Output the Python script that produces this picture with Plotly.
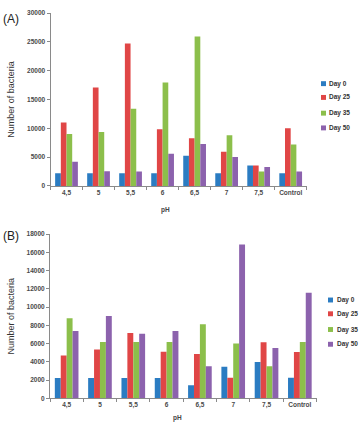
import plotly.graph_objects as go

categories = ["4,5", "5", "5,5", "6", "6,5", "7", "7,5", "Control"]
series_names = ["Day 0", "Day 25", "Day 35", "Day 50"]

# Panel A values
a_day0 = [2200, 2200, 2200, 2200, 5250, 2200, 3530, 2200]
a_day25 = [11000, 17100, 24740, 9860, 8270, 5930, 3530, 10030]
a_day35 = [9000, 9350, 13400, 17960, 25940, 8780, 2510, 7180]
a_day50 = [4220, 2570, 2500, 5590, 7300, 5020, 3300, 2500]

# Panel B values
b_day0 = [2230, 2230, 2230, 2230, 1440, 3450, 3990, 2260]
b_day25 = [4710, 5350, 7150, 5100, 4850, 2260, 6140, 5070]
b_day35 = [8770, 6180, 6180, 6180, 8120, 6000, 3520, 6180]
b_day50 = [7370, 9020, 7080, 7370, 3520, 16850, 5530, 11570]

colors = ["#2b7cc2", "#e04646", "#8cbf4b", "#8c62ad"]

W, H = 359, 422
def px(x):
    return x / W
def py(y):
    return 1 - y / H

fig = go.Figure()
for name, vals, c in zip(series_names, [a_day0, a_day25, a_day35, a_day50], colors):
    fig.add_trace(go.Bar(x=categories, y=vals, name=name, marker_color=c,
                         marker_line_width=0, showlegend=False,
                         xaxis="x", yaxis="y"))
for name, vals, c in zip(series_names, [b_day0, b_day25, b_day35, b_day50], colors):
    fig.add_trace(go.Bar(x=categories, y=vals, name=name, marker_color=c,
                         marker_line_width=0, showlegend=False,
                         xaxis="x2", yaxis="y2"))

tickfont = dict(family="Liberation Sans", size=6.5, color="#4a4a4a", weight="bold")
axcol = "#8a8a8a"
common_x = dict(type="category", tickson="boundaries", ticks="outside", ticklen=3,
                tickcolor=axcol, showline=True, linecolor=axcol, linewidth=1,
                showgrid=False, tickfont=tickfont, tickangle=0, fixedrange=True)
common_y = dict(ticks="outside", ticklen=3, tickcolor=axcol, showline=True,
                linecolor=axcol, linewidth=1, showgrid=False, zeroline=False,
                tickfont=tickfont, tickformat="d")
titlefont = dict(family="Liberation Sans", size=9, color="#333333")

fig.update_layout(
    width=W, height=H,
    margin=dict(l=0, r=0, t=0, b=0),
    paper_bgcolor="white", plot_bgcolor="white",
    barmode="group", bargap=0.29, bargroupgap=0,
    showlegend=False,
    xaxis=dict(domain=[px(50.5), px(306.7)], anchor="y", **common_x),
    yaxis=dict(domain=[py(185), py(9.3)], anchor="x", range=[0, 30000], dtick=5000,
               title=dict(text="Number of bacteria", font=titlefont, standoff=10), **common_y),
    xaxis2=dict(domain=[px(50), px(316.5)], anchor="y2", **common_x),
    yaxis2=dict(domain=[py(401), py(234)], anchor="x2", range=[0, 18000], dtick=2000,
                title=dict(text="Number of bacteria", font=titlefont, standoff=10), **common_y),
)

annots = []
shapes = []
annots.append(dict(text="(A)", x=px(1), y=py(15), xref="paper", yref="paper",
                   xanchor="left", yanchor="middle", showarrow=False,
                   font=dict(family="Liberation Sans", size=12, color="#222222")))
annots.append(dict(text="(B)", x=px(1), y=py(236), xref="paper", yref="paper",
                   xanchor="left", yanchor="middle", showarrow=False,
                   font=dict(family="Liberation Sans", size=12, color="#222222")))
annots.append(dict(text="pH", x=px(165), y=py(209), xref="paper", yref="paper",
                   xanchor="center", yanchor="middle", showarrow=False,
                   font=dict(family="Liberation Sans", size=6.5, color="#444444", weight="bold")))
annots.append(dict(text="pH", x=px(177), y=py(421), xref="paper", yref="paper",
                   xanchor="center", yanchor="middle", showarrow=False,
                   font=dict(family="Liberation Sans", size=6.5, color="#444444", weight="bold")))

legfont = dict(family="Liberation Sans", size=6.5, color="#333333", weight="bold")
for (mx, tx, ys) in [(321, 327, [81, 95, 111, 126]), (328, 335, [301, 315, 331, 346])]:
    for name, c, yc in zip(series_names, colors, ys):
        shapes.append(dict(type="rect", xref="paper", yref="paper",
                           x0=px(mx), x1=px(mx + 5), y0=py(yc + 2.5), y1=py(yc - 2.5),
                           fillcolor=c, line_width=0))
        annots.append(dict(text=name, x=px(tx), y=py(yc), xref="paper", yref="paper",
                           xanchor="left", yanchor="middle", showarrow=False,
                           font=legfont))

fig.update_layout(annotations=annots, shapes=shapes)
fig.write_html("out.html")
